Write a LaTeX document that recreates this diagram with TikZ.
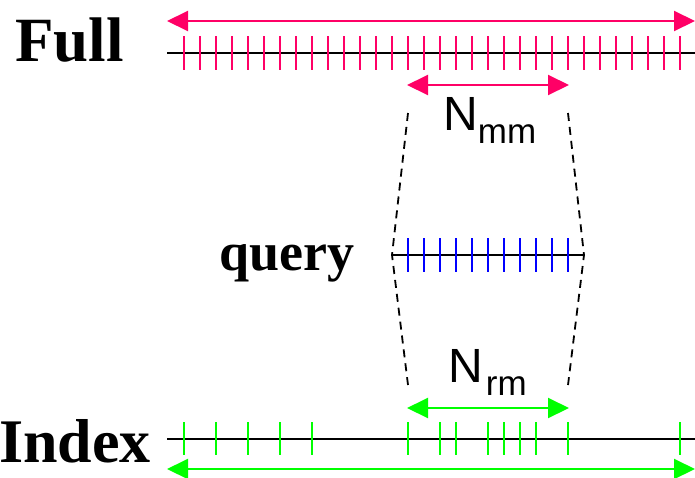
\documentclass[tikz,border=0pt]{standalone}
\usepackage{fontspec}
\setmainfont{Liberation Serif}
\newfontfamily\labsans{Liberation Sans}
\usetikzlibrary{arrows.meta}
\definecolor{fullc}{RGB}{255,0,102}
\definecolor{idxc}{RGB}{0,255,0}
\definecolor{qc}{RGB}{0,0,255}
\begin{document}
\begin{tikzpicture}[x=1pt,y=-1pt,
  baseline/.style={draw=black,line width=2pt},
  tickline/.style={line width=2pt},
  dimarrow/.style={line width=2pt,{Triangle[length=21pt,width=20pt]}-{Triangle[length=21pt,width=20pt]}},
  guide/.style={draw=black,line width=1.8pt,dash pattern=on 8pt off 6pt},
  biglabel/.style={font=\bfseries,inner sep=0pt,anchor=base west},
  nlabel/.style={font=\labsans,inner sep=0pt,anchor=base west}]
\useasboundingbox (0,0) rectangle (695,477);
% labels
\node[biglabel,font=\fontsize{63}{63}\selectfont\bfseries] (lfull) at (15,61) {Full};
\node[biglabel,font=\fontsize{54}{54}\selectfont\bfseries] (lquery) at (219,270) {query};
\node[biglabel,font=\fontsize{62}{62}\selectfont\bfseries] (lindex) at (-1,462) {Index};
% Full
\coordinate (fa) at (167,53); \coordinate (fb) at (695,53);
\draw[baseline] (fa) -- (fb);
\foreach \i in {0,...,31} {\draw[tickline,fullc] (183.7+16*\i,36) -- (183.7+16*\i,70);}
\coordinate (ta) at (167,21); \coordinate (tb) at (695,21);
\draw[dimarrow,fullc] (ta) -- (tb);
% Nmm
\coordinate (ma) at (407,85); \coordinate (mb) at (569,85);
\draw[dimarrow,fullc] (ma) -- (mb);
\node[nlabel] (nmm) at (443,130) {\fontsize{48}{48}\selectfont N\raisebox{-13pt}{\fontsize{35}{35}\selectfont mm}};
% query
\coordinate (qa) at (392,255); \coordinate (qb) at (584,255);
\draw[baseline] (qa) -- (qb);
\foreach \i in {0,...,10} {\draw[tickline,qc] (407.7+16*\i,238) -- (407.7+16*\i,272);}
% guides
\coordinate (g1) at (408,113); \coordinate (g2) at (568,113);
\coordinate (g3) at (408,385); \coordinate (g4) at (568,385);
\draw[guide] (g1) -- (qa) -- (g3);
\draw[guide] (g2) -- (qb) -- (g4);
% Nrm
\node[nlabel] (nrm) at (448,382) {\fontsize{48}{48}\selectfont N\kern3pt\raisebox{-13pt}{\fontsize{35}{35}\selectfont rm}};
\coordinate (ra) at (407,408); \coordinate (rb) at (569,408);
\draw[dimarrow,idxc] (ra) -- (rb);
% Index
\coordinate (ia) at (167,439); \coordinate (ib) at (695,439);
\draw[baseline] (ia) -- (ib);
\foreach \x in {184,216,248,280,312,408,440,456,488,504,520,536,568,680} {\draw[tickline,idxc] (\x,422) -- (\x,455);}
\coordinate (ba) at (167,469); \coordinate (bb) at (695,469);
\draw[dimarrow,idxc] (ba) -- (bb);
\end{tikzpicture}
\end{document}
